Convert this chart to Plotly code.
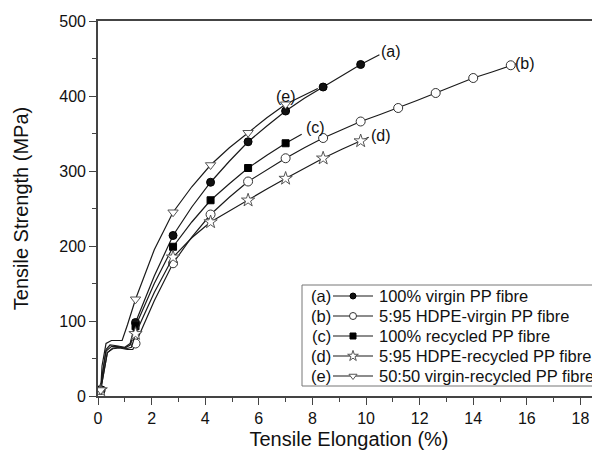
import plotly.graph_objects as go

# ---------------- data ----------------
a_x = [0.1, 0.15, 0.3, 0.45, 0.7, 1.0, 1.2, 1.4, 2.1, 2.8, 3.5, 4.2, 4.9, 5.6, 6.3, 7.0, 7.7, 8.4, 9.1, 9.8, 10.5]
a_y = [8, 25, 62, 68, 67, 65, 70, 98, 160, 214, 252, 285, 313, 339, 360, 380, 397, 412, 427, 442, 455]

b_x = [0.1, 0.2, 0.35, 0.55, 0.8, 1.1, 1.3, 1.4, 2.1, 2.8, 3.5, 4.2, 4.9, 5.6, 6.3, 7.0, 7.7, 8.4, 9.1, 9.8,
       10.5, 11.2, 11.9, 12.6, 13.3, 14.0, 14.7, 15.4, 15.6]
b_y = [8, 28, 58, 63, 64, 62, 62, 70, 127, 177, 212, 242, 265, 286, 302, 317, 331, 344, 355, 366,
       375, 384, 394, 404, 414, 424, 432, 441, 443]

c_x = [0.1, 0.15, 0.3, 0.5, 0.75, 1.0, 1.2, 1.4, 2.1, 2.8, 3.5, 4.2, 4.9, 5.6, 6.3, 7.0, 7.6]
c_y = [8, 26, 60, 66, 66, 64, 68, 93, 150, 199, 232, 261, 283, 304, 321, 337, 349]

d_x = [0.1, 0.2, 0.35, 0.55, 0.8, 1.05, 1.25, 1.4, 2.1, 2.8, 3.5, 4.2, 4.9, 5.6, 6.3, 7.0, 7.7, 8.4, 9.1, 9.8, 10.1]
d_y = [8, 27, 58, 64, 65, 63, 65, 83, 138, 185, 211, 232, 247, 261, 276, 290, 304, 317, 329, 340, 345]

e_x = [0.1, 0.15, 0.3, 0.5, 0.7, 0.9, 1.1, 1.4, 2.1, 2.8, 3.5, 4.2, 4.9, 5.6, 6.3, 7.0, 7.6, 8.2]
e_y = [8, 40, 70, 74, 74, 74, 95, 129, 195, 245, 279, 308, 331, 351, 371, 389, 400, 410]

# marker positions (every 1.4 % elongation plus the first point)
a_mx = [0.1, 1.4, 2.8, 4.2, 5.6, 7.0, 8.4, 9.8]
a_my = [8, 98, 214, 285, 339, 380, 412, 442]
b_mx = [0.1, 1.4, 2.8, 4.2, 5.6, 7.0, 8.4, 9.8, 11.2, 12.6, 14.0, 15.4]
b_my = [8, 70, 177, 242, 286, 317, 344, 366, 384, 404, 424, 441]
c_mx = [0.1, 1.4, 2.8, 4.2, 5.6, 7.0]
c_my = [8, 93, 199, 261, 304, 337]
d_mx = [0.1, 1.4, 2.8, 4.2, 5.6, 7.0, 8.4, 9.8]
d_my = [8, 83, 185, 232, 261, 290, 317, 340]
e_mx = [0.1, 1.4, 2.8, 4.2, 5.6, 7.0]
e_my = [8, 129, 245, 308, 351, 389]

letters = ["(a)", "(b)", "(c)", "(d)", "(e)"]
names = ["100% virgin PP fibre", "5:95 HDPE-virgin PP fibre", "100% recycled PP fibre",
         "5:95 HDPE-recycled PP fibre", "50:50 virgin-recycled PP fibre"]
label_x = [10.95, 15.95, 8.1, 10.55, 7.0]
label_y = [459, 444, 358, 348, 400]

# ---------------- styling ----------------
LINE = "#1a1a1a"
TXT = "#111111"
marker_styles = [
    dict(symbol="circle", size=8, color="#111111", line=dict(color="#000000", width=1)),
    dict(symbol="circle", size=9, color="white", line=dict(color="#333333", width=1)),
    dict(symbol="square", size=7, color="#000000", line=dict(color="#000000", width=1)),
    dict(symbol="star", size=10, color="white", line=dict(color="#555555", width=1)),
    dict(symbol="triangle-down", size=9, color="white", line=dict(color="#555555", width=1)),
]
legend_marker_size = [6, 7, 6, 8, 7]

series = [(a_x, a_y, a_mx, a_my), (b_x, b_y, b_mx, b_my), (c_x, c_y, c_mx, c_my),
          (d_x, d_y, d_mx, d_my), (e_x, e_y, e_mx, e_my)]

# The page adds an 8 px body margin, so the figure is sized to fill the rest of the window.
OFF = 8
W, H = 600 - OFF, 457 - OFF
ML, MR, MT, MB = 98 - OFF, 0, 21 - OFF, 457 - 396
pw = W - ML - MR
ph = H - MT - MB

def px_to_paper_x(px):          # px in window coordinates
    return (px - OFF - ML) / pw

def py_to_paper_y(py):
    return (H - MB - (py - OFF)) / ph

fig = go.Figure()
for i, (lx, ly, mx, my) in enumerate(series):
    fig.add_trace(go.Scatter(x=lx, y=ly, mode="lines", line=dict(color=LINE, width=1.2),
                             showlegend=False, hoverinfo="skip"))
    fig.add_trace(go.Scatter(x=mx, y=my, mode="markers", marker=marker_styles[i],
                             showlegend=False, name=names[i]))

# ---------------- hand-drawn legend (letter, line+marker, text) ----------------
row_py = [296, 316, 336, 356, 376]
sym_x0, sym_x1, sym_xm = 333, 373, 353
annotations = []
shapes = [dict(type="rect", xref="paper", yref="paper",
               x0=px_to_paper_x(302), x1=1.05, y0=py_to_paper_y(386), y1=py_to_paper_y(285),
               line=dict(color="#777777", width=1), fillcolor="white", layer="below")]
for i in range(5):
    yy = py_to_paper_y(row_py[i])
    annotations.append(dict(x=px_to_paper_x(321), y=yy, xref="paper", yref="paper",
                            xanchor="center", yanchor="middle",
                            text=letters[i], showarrow=False, font=dict(size=16.5, color=TXT)))
    annotations.append(dict(x=px_to_paper_x(377), y=yy, xref="paper", yref="paper",
                            xanchor="left", yanchor="middle",
                            text=names[i], showarrow=False, font=dict(size=16.5, color=TXT)))
    shapes.append(dict(type="line", xref="paper", yref="paper",
                       x0=px_to_paper_x(sym_x0), x1=px_to_paper_x(sym_x1), y0=yy, y1=yy,
                       line=dict(color=LINE, width=1.2), layer="below"))
    ms = dict(marker_styles[i])
    ms["size"] = legend_marker_size[i]
    fig.add_trace(go.Scatter(x=[px_to_paper_x(sym_xm)], y=[yy], xaxis="x2", yaxis="y2",
                             mode="markers", marker=ms, showlegend=False, cliponaxis=False,
                             hoverinfo="skip"))

# curve letters
for i in range(5):
    annotations.append(dict(x=label_x[i], y=label_y[i], xref="x", yref="y", text=letters[i],
                            xanchor="center", yanchor="middle",
                            showarrow=False, font=dict(size=16, color=TXT)))

fig.update_layout(
    width=W, height=H,
    margin=dict(l=ML, r=MR, t=MT, b=MB, autoexpand=False),
    paper_bgcolor="white", plot_bgcolor="white",
    font=dict(family="Liberation Sans, Arial, sans-serif", size=16, color=TXT),
    showlegend=False,
    annotations=annotations,
    shapes=shapes,
    xaxis2=dict(overlaying="x", range=[0, 1], visible=False, fixedrange=True),
    yaxis2=dict(overlaying="y", range=[0, 1], visible=False, fixedrange=True),
)
fig.layout.xaxis.update(range=[0, 18.73], showgrid=False, zeroline=False, automargin=False,
                 showline=True, linecolor="#444444", linewidth=1.6, mirror=True,
                 ticks="outside", ticklen=7, tickwidth=1.3, tickcolor="#444444",
                 dtick=2, tick0=0,
                 minor=dict(dtick=1, ticks="outside", ticklen=4, tickwidth=1.2, tickcolor="#444444"),
                 tickfont=dict(size=16, color=TXT),
                 title=dict(text="Tensile Elongation (%)", font=dict(size=20, color=TXT), standoff=6))
fig.layout.yaxis.update(range=[0, 500], showgrid=False, zeroline=False, automargin=False,
                 showline=True, linecolor="#444444", linewidth=1.6, mirror=False,
                 ticks="outside", ticklen=7, tickwidth=1.3, tickcolor="#444444",
                 dtick=100, tick0=0,
                 minor=dict(dtick=50, ticks="outside", ticklen=4, tickwidth=1.2, tickcolor="#444444"),
                 tickfont=dict(size=16, color=TXT),
                 title=dict(text="Tensile Strength (MPa)", font=dict(size=20, color=TXT), standoff=25))

fig.write_html("out.html")
